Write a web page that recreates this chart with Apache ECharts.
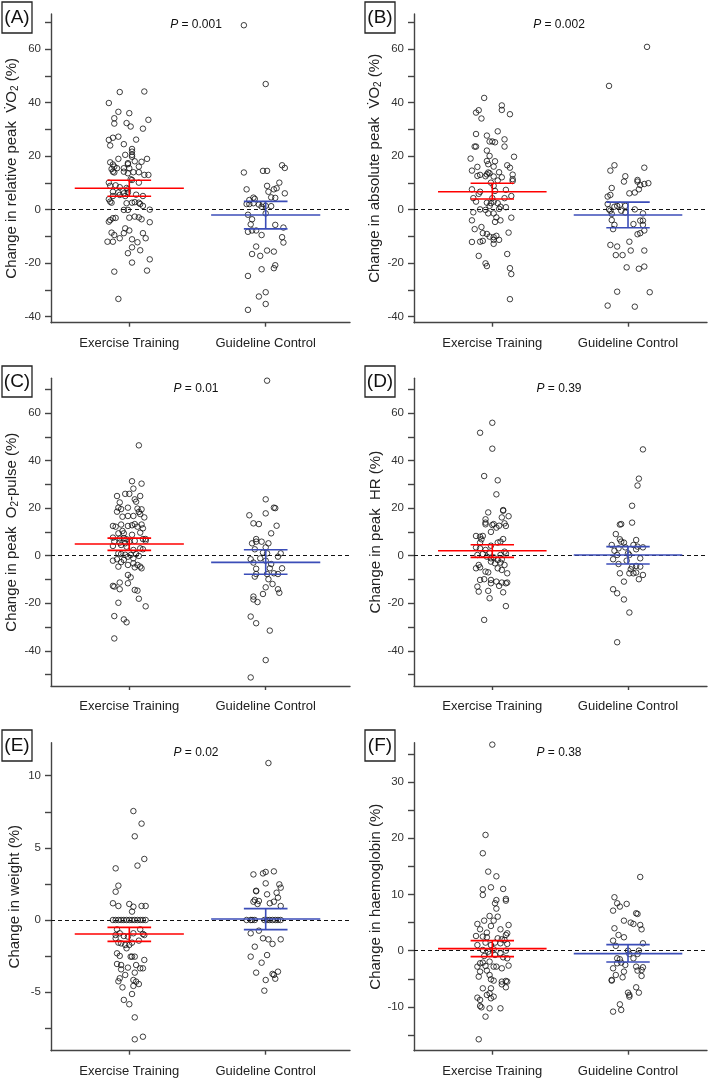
<!DOCTYPE html>
<html><head><meta charset="utf-8">
<script src="https://cdn.jsdelivr.net/npm/echarts@6/dist/echarts.min.js"></script>
<style>html,body{margin:0;padding:0;background:#fff}#c{width:709px;height:1080px}</style>
</head><body><div id="c"></div>
<script>
// ---------- data ----------
const groups = ['Exercise Training', 'Guideline Control'];
const panelLabels = ['(A)', '(B)', '(C)', '(D)', '(E)', '(F)'];
const pValues = ['0.001', '0.002', '0.01', '0.39', '0.02', '0.38'];
const yTitles = [
  'Change in relative peak  V\u0307O{s|2} (%)',
  'Change in absolute peak  V\u0307O{s|2} (%)',
  'Change in peak  O{s|2}-pulse (%)',
  'Change in peak  HR (%)',
  'Change in weight (%)',
  'Change in haemoglobin (%)'
];
const yTicksAB = [-40, -30, -20, -10, 0, 10, 20, 30, 40, 50, 60, 70];
const yLabelsAB = [-40, -20, 0, 20, 40, 60];
const yTicksCD = [-50, -40, -30, -20, -10, 0, 10, 20, 30, 40, 50, 60, 70];
const yLabelsCD = [-40, -20, 0, 20, 40, 60];
const yTicksE = [-7.5, -5, -2.5, 0, 2.5, 5, 7.5, 10];
const yLabelsE = [-5, 0, 5, 10];
const yTicksF = [-15, -10, -5, 0, 5, 10, 15, 20, 25, 30, 35];
const yLabelsF = [-10, 0, 10, 20, 30];

// points: [jitter, value]
const exA = [[-0.07,44.0],[0.11,44.2],[-0.15,39.9],[-0.08,36.6],[0.00,36.1],[-0.11,34.2],[-0.11,32.2],[-0.02,32.4],[0.01,31.1],[0.14,33.6],[0.10,30.3],[-0.08,27.3],[-0.12,26.9],[-0.15,26.1],[-0.14,24.0],[-0.04,24.5],[0.05,26.2],[0.02,22.7],[0.02,21.7],[0.02,20.5],[-0.03,20.5],[0.02,19.8],[-0.08,19.0],[0.13,19.0],[-0.14,17.7],[-0.12,16.9],[-0.11,16.1],[0.04,18.1],[0.09,17.9],[-0.01,17.4],[-0.01,17.0],[-0.13,15.2],[-0.09,15.5],[-0.04,15.5],[0.00,15.5],[0.07,16.1],[-0.12,14.2],[-0.11,13.9],[-0.04,14.2],[-0.01,13.6],[0.03,14.0],[0.07,14.0],[0.11,13.0],[0.14,13.0],[0.01,11.4],
[-0.15,10.1],[-0.14,8.9],[-0.10,9.1],[-0.07,8.4],[-0.02,8.1],[-0.01,7.6],[-0.12,6.7],[-0.08,6.4],[-0.04,6.1],[-0.01,6.4],[0.07,10.1],[0.02,11.1],[-0.07,5.5],[-0.03,5.1],[-0.12,5.1],[0.10,5.1],[0.05,5.6],[-0.15,3.9],[-0.14,3.0],[-0.13,2.6],[-0.02,2.4],[0.02,2.6],[0.04,2.8],[0.07,2.6],[0.08,2.1],[0.10,1.4],[-0.04,-0.1],[-0.01,-0.1],[0.15,0.0],[-0.14,-3.9],[-0.12,-3.2],[-0.10,-3.1],[-0.15,-4.5],[0.00,-3.0],[0.04,-2.6],[0.07,-2.9],[0.09,-3.6],[0.15,-4.7],[-0.03,-7.0],[0.00,-7.8],[-0.04,-8.8],[-0.13,-8.6],[-0.11,-9.5],[0.10,-8.8],[-0.12,-12.0],[-0.16,-12.0],[-0.07,-10.7],[0.02,-11.1],[0.12,-10.7],[0.06,-12.2],[0.02,-14.1],[0.08,-15.2],[-0.01,-16.3],[0.15,-18.6],[0.02,-19.8],[-0.11,-23.2],[0.13,-22.8],[-0.08,-33.4]];
const ctA = [[-0.16,69.0],[0.00,47.0],[-0.16,13.9],[-0.02,14.5],[0.01,14.5],[0.12,16.6],[0.14,15.6],[0.10,10.1],[0.01,8.9],[0.08,8.0],[0.06,7.6],[-0.14,7.6],[0.02,6.7],[0.14,6.1],[0.04,4.6],[0.07,4.4],[-0.09,4.5],[-0.08,4.0],[-0.12,3.6],[-0.14,2.1],[-0.12,2.1],[-0.09,2.4],[-0.05,1.9],[-0.02,2.1],[0.00,1.4],[0.04,1.3],[-0.03,1.1],[0.00,-1.4],[-0.13,-1.9],[-0.10,-3.6],[-0.11,-5.5],[-0.13,-8.3],[-0.10,-7.8],[-0.07,-7.8],[-0.03,-9.5],[0.07,-5.7],[0.13,-6.7],[0.12,-10.3],[0.13,-12.3],[-0.07,-13.8],[-0.10,-16.6],[-0.04,-17.3],[0.01,-15.3],[0.06,-15.7],[-0.13,-24.8],[-0.03,-22.3],[0.06,-21.9],[0.07,-20.8],[-0.05,-32.5],[0.00,-30.9],[0.00,-35.3],[-0.13,-37.5]];

const exB = [[-0.06,41.8],[0.07,39.0],[0.07,37.3],[-0.10,37.2],[-0.12,36.3],[0.13,35.7],[-0.08,34.1],[0.04,29.3],[-0.12,28.3],[-0.04,27.7],[0.09,26.3],[-0.02,25.5],[0.00,25.5],[0.02,25.2],[-0.13,23.6],[-0.12,23.6],[0.09,23.6],[-0.04,22.1],[-0.02,20.1],[-0.16,19.1],[0.16,19.8],[-0.04,18.2],[0.02,18.1],[-0.03,17.0],[0.11,16.6],[-0.11,16.0],[0.01,16.1],[0.13,15.7],[-0.15,14.6],[0.05,14.0],[-0.03,13.9],[-0.02,13.6],[-0.04,13.2],[-0.09,13.0],[-0.11,12.6],[-0.05,12.5],[0.15,13.1],[0.01,12.4],[0.07,12.1],[0.15,11.4],
[-0.01,10.1],[0.01,8.9],[0.04,10.9],[0.15,10.7],[-0.15,7.6],[-0.09,6.7],[-0.10,5.9],[0.02,7.0],[0.10,7.4],[-0.14,4.3],[-0.12,3.0],[0.00,4.3],[0.09,4.3],[0.14,5.1],[-0.04,2.6],[-0.01,2.4],[0.01,3.0],[0.04,2.4],[-0.02,1.4],[0.06,1.1],[0.10,0.9],[0.05,0.3],[-0.09,0.1],[-0.05,-0.1],[-0.03,-1.4],[-0.14,-1.0],[0.01,-1.4],[0.03,-2.9],[0.06,-4.0],[0.02,-4.6],[0.14,-3.0],[-0.15,-4.0],[-0.13,-7.3],[-0.08,-6.5],[-0.07,-8.8],[-0.04,-9.1],[-0.02,-10.1],[0.01,-10.3],[0.03,-9.8],[0.01,-11.3],[0.05,-11.3],[0.01,-12.8],[-0.09,-12.0],[-0.07,-11.7],[-0.15,-12.1],[0.12,-8.6],[-0.10,-17.3],[0.11,-16.6],[-0.05,-20.1],[-0.04,-21.1],[0.13,-21.9],[0.14,-24.1],[0.13,-33.5]];
const ctB = [[-0.14,46.3],[0.14,60.9],[-0.13,14.6],[-0.10,16.6],[0.12,15.7],[-0.02,12.5],[0.07,11.1],[-0.03,10.5],[0.07,10.5],[0.09,9.2],[0.12,9.6],[0.15,9.9],[-0.12,8.1],[0.08,7.6],[0.01,6.1],[0.05,6.4],[-0.13,5.5],[-0.15,4.9],[-0.15,2.1],[-0.10,1.1],[-0.08,1.4],[-0.06,1.8],[-0.02,1.4],[-0.14,0.1],[-0.13,-0.4],[-0.05,-0.4],[-0.02,-1.1],[0.05,0.1],[0.11,-1.4],[-0.12,-1.6],[-0.12,-3.9],[-0.10,-5.7],[-0.11,-7.3],[0.04,-5.4],[0.09,-4.1],[0.11,-4.1],[0.11,-5.7],[0.12,-7.8],[0.09,-8.8],[0.07,-9.2],[-0.13,-13.2],[-0.08,-13.8],[0.01,-12.0],[0.02,-15.3],[0.12,-15.3],[-0.09,-17.0],[-0.04,-17.0],[-0.01,-21.6],[0.08,-22.1],[0.12,-21.3],[-0.08,-30.7],[0.16,-30.9],[-0.15,-35.9],[0.05,-36.3]];

const exC = [[0.07,46.4],[0.02,31.3],[0.09,30.3],[0.03,28.2],[-0.09,25.1],[-0.03,26.0],[0.00,26.0],[0.08,25.1],[0.04,23.7],[0.05,22.7],[-0.07,22.4],[-0.01,20.2],[-0.08,20.2],[-0.06,19.6],[-0.09,18.5],[0.06,19.8],[0.09,19.5],[0.08,17.5],[-0.05,16.4],[-0.01,16.7],[0.03,16.7],[0.11,16.1],[0.07,18.4],[0.04,13.3],[0.06,12.2],[-0.12,12.5],[-0.10,12.2],[-0.06,13.1],[-0.01,12.5],[0.02,12.8],[0.09,13.1],[0.10,11.5],[-0.05,10.4],[-0.04,9.4],[0.02,8.8],[0.08,9.7],[-0.08,9.4],[-0.12,7.6],[-0.07,7.2],[-0.04,7.4],[-0.02,6.9],[0.10,7.0],[0.12,7.0],
[-0.11,5.9],[-0.07,5.5],[-0.03,5.2],[0.00,5.9],[0.04,6.2],[0.12,6.3],[-0.12,4.1],[-0.06,4.5],[-0.02,3.8],[0.08,3.1],[0.10,2.7],[0.03,2.4],[-0.08,1.0],[-0.06,0.7],[-0.03,0.4],[0.01,0.3],[0.05,0.7],[0.07,-0.1],[-0.01,-0.4],[-0.12,-2.1],[-0.09,-1.5],[-0.06,-2.7],[-0.04,-1.8],[0.03,-1.1],[0.03,-3.2],[0.06,-3.9],[0.08,-4.6],[0.09,-5.3],[0.04,-4.9],[-0.08,-4.6],[-0.01,-3.9],[-0.01,-8.1],[0.01,-9.1],[-0.07,-11.3],[-0.01,-11.6],[-0.12,-12.7],[-0.11,-13.0],[-0.07,-14.1],[0.04,-14.4],[0.06,-14.7],[0.07,-18.1],[-0.08,-19.8],[0.12,-21.3],[-0.11,-25.4],[-0.04,-26.8],[-0.02,-28.0],[-0.11,-34.8]];
const ctC = [[0.01,73.6],[0.00,23.7],[0.06,20.2],[0.07,20.0],[-0.12,17.0],[-0.09,13.6],[-0.05,13.3],[0.00,17.8],[0.08,12.6],[0.04,9.4],[-0.07,7.0],[-0.10,5.2],[-0.07,5.9],[-0.03,5.9],[0.02,5.2],[0.00,3.5],[-0.08,2.7],[-0.02,1.3],[0.01,1.0],[0.11,1.0],[0.09,-0.4],[-0.04,-1.1],[-0.11,-1.5],[-0.09,-2.9],[0.00,-2.1],[0.04,-3.5],[0.03,-5.3],[0.12,-5.3],[-0.07,-5.5],[-0.08,-8.8],[-0.07,-7.7],[0.01,-7.7],[0.06,-7.4],[0.09,-7.7],[0.02,-9.9],[0.05,-11.9],[0.00,-13.3],[0.09,-14.1],[0.10,-15.6],[-0.02,-16.1],[-0.09,-17.2],[-0.09,-18.4],[-0.06,-19.5],[-0.11,-25.6],[-0.07,-28.4],[0.03,-31.5],[0.00,-43.9],[-0.11,-51.2]];

const exD = [[0.00,55.9],[-0.09,51.7],[0.00,45.0],[-0.06,33.5],[0.04,31.7],[0.03,25.8],[-0.03,18.2],[0.08,19.2],[0.08,18.9],[0.12,16.6],[0.07,16.1],[-0.05,15.3],[-0.05,13.2],[-0.05,13.9],[0.01,13.3],[0.00,12.9],[0.05,12.6],[0.10,12.5],[0.03,11.8],[0.09,13.6],[-0.01,10.0],[-0.12,8.3],[-0.09,8.0],[-0.07,8.3],[0.08,7.0],[-0.08,6.9],
[-0.09,5.5],[0.06,5.9],[0.04,5.5],[-0.01,4.2],[-0.12,3.5],[-0.09,3.1],[-0.05,2.4],[-0.02,1.3],[0.09,1.7],[0.10,1.0],[0.06,0.3],[-0.11,0.3],[-0.07,0.7],[-0.04,-0.4],[-0.01,-1.1],[0.01,-0.7],[0.04,-1.8],[0.07,-1.5],[-0.01,-2.5],[0.02,-3.2],[0.06,-2.9],[-0.10,-3.9],[-0.09,-4.9],[-0.12,-5.3],[-0.05,-6.7],[-0.03,-7.0],[0.04,-5.3],[0.07,-6.0],[0.11,-7.4],[0.09,-3.9],[-0.09,-10.2],[-0.06,-9.9],[-0.01,-10.2],[-0.01,-11.6],[0.03,-10.9],[0.05,-12.7],[0.07,-11.3],[0.10,-11.6],[0.11,-11.3],[-0.11,-13.0],[-0.10,-15.1],[-0.03,-14.8],[0.08,-15.4],[-0.02,-17.9],[0.10,-21.2],[-0.06,-27.0]];
const ctD = [[0.11,44.7],[0.08,32.4],[0.07,29.5],[0.03,21.0],[0.03,13.9],[-0.06,13.1],[-0.05,13.3],[-0.09,9.1],[0.06,6.6],[-0.06,6.9],[-0.12,4.5],[-0.05,5.9],[-0.03,5.5],[-0.07,3.1],[-0.02,3.5],[0.04,4.5],[0.07,3.8],[0.11,3.5],[0.06,2.7],[-0.10,2.1],[-0.08,0.3],[0.00,1.0],[0.01,0.3],[-0.11,-1.5],[-0.07,-3.5],[-0.01,-2.1],[0.09,-1.1],[0.03,-4.6],[0.06,-4.3],[0.09,-4.6],[0.02,-5.7],[0.06,-7.1],[0.01,-7.4],[0.04,-7.4],[0.11,-8.1],[0.08,-9.9],[-0.06,-7.4],[-0.03,-10.9],[-0.11,-14.1],[-0.08,-15.8],[-0.03,-18.4],[0.01,-23.9],[-0.08,-36.4]];

const exE = [[0.03,7.55],[0.09,6.68],[0.04,5.80],[0.11,4.23],[0.06,3.77],[-0.10,3.58],[-0.08,2.38],[-0.10,1.96],[-0.12,1.16],[-0.08,0.97],[0.00,1.11],[0.03,0.92],[0.02,0.58],[0.09,0.97],[0.12,0.97],
[-0.12,0],[-0.10,0],[-0.08,0],[-0.06,0],[-0.04,0],[-0.02,0],[0.00,0],[0.02,0],[0.04,0],[0.06,0],[0.08,0],[0.10,0],[0.12,0],
[-0.09,-0.65],[-0.07,-0.92],[-0.10,-1.04],[-0.10,-1.27],[-0.04,-1.11],[-0.01,-1.15],[0.03,-0.92],[0.08,-0.65],[0.10,-0.97],[0.11,-1.04],[-0.08,-1.57],[-0.06,-1.62],[-0.03,-1.73],[-0.02,-1.96],[0.00,-1.73],[0.02,-1.57],[0.07,-1.43],[-0.09,-2.31],[-0.07,-2.49],[0.01,-2.54],[0.02,-2.54],[0.04,-2.54],[0.11,-2.77],[-0.09,-3.05],[-0.06,-3.12],[-0.06,-3.42],[-0.01,-3.30],[0.05,-3.12],[0.08,-3.35],[0.10,-3.35],[0.04,-3.65],[-0.03,-3.81],[-0.07,-4.04],[-0.08,-4.25],[0.03,-4.16],[0.05,-4.27],[0.07,-4.44],[0.03,-4.57],[-0.05,-4.67],[0.02,-5.13],[-0.04,-5.54],[0.00,-5.84],[0.04,-6.75],[0.10,-8.09],[0.04,-8.27]];
const ctE = [[0.02,10.88],[-0.09,3.16],[-0.02,3.23],[0.00,3.33],[0.06,3.37],[0.00,2.54],[-0.07,2.03],[-0.07,1.99],[0.10,2.47],[0.11,2.24],[0.01,1.78],[0.08,1.89],[0.09,1.55],[-0.08,1.39],[-0.09,1.27],[-0.06,1.11],[-0.05,1.32],[0.03,1.16],[0.06,1.27],[0.11,0.97],
[-0.14,0],[-0.11,0],[-0.10,0],[-0.08,0],[-0.01,0],[0.01,0],[0.03,0],[0.05,0],[0.07,0],[0.09,0],[0.11,0],
[-0.11,-0.92],[-0.05,-0.74],[-0.02,-1.27],[0.02,-1.34],[0.05,-1.66],[0.11,-1.34],[-0.08,-1.85],[-0.11,-2.54],[0.01,-2.43],[-0.03,-2.96],[-0.07,-3.65],[0.05,-3.74],[0.09,-3.58],[0.06,-3.81],[0.07,-4.07],[0.00,-4.16],[-0.01,-4.90]];

const exF = [[0.00,36.66],[-0.05,20.59],[-0.07,17.33],[-0.03,14.06],[0.03,13.23],[-0.07,10.92],[-0.01,11.27],[0.08,10.98],[-0.07,9.91],[0.10,9.2],[0.03,9.0],[0.02,8.43],[0.10,8.9],[0.03,7.48],[-0.02,6.17],[0.04,6.05],[-0.06,5.34],[0.01,5.34],[-0.11,4.75],[-0.01,4.39],[0.12,4.57],[-0.09,3.8],[-0.04,3.21],[0.06,3.8],[-0.12,2.61],[-0.07,2.5],[-0.04,2.38],[0.10,2.79],[0.11,3.09],[0.04,2.2],[0.07,2.02],[0.09,1.9],[-0.11,1.0],[-0.05,1.43],[-0.01,1.0],[0.02,1.43],[0.06,1.31],[0.11,1.19],[-0.07,0.12],[-0.03,-0.17],[0.01,0.24],[0.10,0.0],[-0.06,-0.95],[-0.02,-0.59],[0.02,-0.77],[0.08,-1.18],[0.11,-1.36],[0.06,-0.47],[-0.09,-2.25],[-0.07,-2.13],[-0.02,-1.95],[-0.11,-2.84],[-0.05,-2.72],[0.01,-2.84],[0.03,-2.84],[0.07,-3.14],[0.12,-2.66],[-0.09,-3.73],[-0.04,-3.55],[-0.02,-4.33],[-0.10,-4.62],[-0.01,-5.1],[0.01,-5.33],[0.07,-5.51],[0.10,-5.39],[0.11,-5.51],[0.07,-5.99],[0.10,-6.52],[-0.07,-6.7],[-0.01,-6.7],[-0.04,-7.88],[-0.02,-7.59],[0.01,-8.18],[-0.01,-8.48],[-0.11,-8.36],[-0.09,-8.77],[-0.09,-9.84],[-0.08,-10.08],[0.06,-10.26],[-0.02,-10.26],[-0.05,-11.74],[-0.10,-15.77]];
const ctF = [[0.09,13.11],[-0.10,9.5],[-0.08,8.43],[-0.06,7.84],[-0.01,8.31],[-0.11,7.12],[-0.03,5.34],[0.07,6.53],[0.06,6.65],[0.02,4.99],[0.04,4.75],[0.09,4.57],[0.10,3.8],[-0.10,3.98],[-0.07,2.79],[-0.03,2.38],[-0.11,1.78],[-0.09,0.85],[0.11,1.31],[0.00,0.0],[0.08,0.0],[0.01,-0.59],[0.07,-0.59],[0.04,-1.36],[-0.08,-1.36],[-0.06,-1.54],[-0.05,-2.13],[-0.02,-2.54],[-0.08,-2.25],[0.06,-2.84],[0.11,-2.96],[-0.11,-3.14],[0.10,-3.44],[-0.03,-3.73],[0.07,-3.55],[-0.09,-4.33],[-0.04,-4.74],[-0.12,-5.21],[0.10,-4.5],[-0.12,-5.33],[0.06,-6.52],[0.08,-7.47],[0.00,-7.47],[0.01,-8.18],[0.01,-7.88],[-0.06,-9.55],[-0.05,-10.55],[-0.11,-10.85]];

// [mean, lower CI, upper CI] for exercise, control
const statsA = [[8.0, 5.0, 11.0], [-2.0, -7.2, 3.1]];
const statsB = [[6.7, 4.0, 9.9], [-2.0, -6.8, 2.8]];
const statsC = [[4.9, 2.25, 7.4], [-2.8, -7.8, 2.5]];
const statsD = [[2.1, -0.7, 4.6], [0.3, -3.5, 3.8]];
const statsE = [[-0.97, -1.48, -0.51], [0.07, -0.67, 0.79]];
const statsF = [[0.36, -1.06, 1.78], [-0.53, -2.01, 1.07]];

// ---------- layout / style ----------
const FONT = 'Liberation Sans, Arial, Helvetica, sans-serif';
const AX = '#444';
const groupColors = ['#ff0000', '#3b4db8'];
const cols = [
  {left: 51, width: 299, xmin: 0.426, xmax: 2.618, labX: 2, pX: 196},
  {left: 414, width: 293, xmin: 0.423, xmax: 2.582, labX: 365, pX: 559}
];
const rows = [
  {top: 14, height: 308.7, labY: 2, pY: 25},
  {top: 378.3, height: 307.7, labY: 366, pY: 389},
  {top: 742.7, height: 308, labY: 730, pY: 753}
];
const panels = [
  {ex: exA, ct: ctA, st: statsA, yr: [-42.3, 73.2], ticks: yTicksAB, labels: yLabelsAB},
  {ex: exB, ct: ctB, st: statsB, yr: [-42.3, 73.2], ticks: yTicksAB, labels: yLabelsAB},
  {ex: exC, ct: ctC, st: statsC, yr: [-54.8, 74.6], ticks: yTicksCD, labels: yLabelsCD},
  {ex: exD, ct: ctD, st: statsD, yr: [-54.8, 74.6], ticks: yTicksCD, labels: yLabelsCD},
  {ex: exE, ct: ctE, st: statsE, yr: [-9.06, 12.29], ticks: yTicksE, labels: yLabelsE},
  {ex: exF, ct: ctF, st: statsF, yr: [-17.8, 37.0], ticks: yTicksF, labels: yLabelsF}
];

const grid = [], xAxis = [], yAxis = [], series = [], graphic = [];
panels.forEach((p, i) => {
  const c = cols[i % 2], r = rows[Math.floor(i / 2)];
  grid.push({left: c.left, top: r.top, width: c.width, height: r.height, containLabel: false, outerBoundsMode: 'none'});
  xAxis.push({
    type: 'value', gridIndex: i, min: c.xmin, max: c.xmax,
    splitLine: {show: false},
    axisLine: {show: true, onZero: false, lineStyle: {color: AX, width: 1.4}},
    axisTick: {show: true, customValues: [1, 2], length: 4, lineStyle: {color: AX, width: 1.4}},
    axisLabel: {customValues: [1, 2], formatter: v => groups[Math.round(v) - 1], fontSize: 13, color: '#222', fontFamily: FONT, margin: 14}
  });
  yAxis.push({
    type: 'value', gridIndex: i, min: p.yr[0], max: p.yr[1],
    splitLine: {show: false},
    axisLine: {show: true, onZero: false, lineStyle: {color: AX, width: 1.4}},
    axisTick: {show: true, customValues: p.ticks, length: 6, lineStyle: {color: AX, width: 1.4}},
    axisLabel: {customValues: p.labels, formatter: v => String(v), fontSize: 11.5, color: '#333', fontFamily: FONT, margin: 10},
    name: yTitles[i], nameLocation: 'middle', nameGap: 29,
    nameTextStyle: {fontSize: 15, color: '#222', fontFamily: FONT,
      rich: {s: {fontSize: 10, color: '#222', fontFamily: FONT, padding: [7, 0, 0, 0]}}}
  });
  [p.ex, p.ct].forEach((pts, g) => {
    series.push({
      type: 'scatter', xAxisIndex: i, yAxisIndex: i, z: 3,
      symbol: 'circle', symbolSize: 5.5,
      itemStyle: {color: 'rgba(0,0,0,0)', borderColor: '#111', borderWidth: 1},
      data: pts.map(d => [g + 1 + d[0], d[1]]),
      silent: true,
      markLine: g === 0 ? {
        silent: true, symbol: ['none', 'none'], label: {show: false},
        lineStyle: {color: '#111', type: [4, 3], width: 1.2},
        data: [{yAxis: 0}]
      } : undefined
    });
  });
  series.push({
    type: 'custom', xAxisIndex: i, yAxisIndex: i, z: 5, silent: true,
    data: p.st.map((s, g) => [g + 1, s[0], s[1], s[2]]),
    renderItem: (params, api) => {
      const x = api.value(0), m = api.value(1), lo = api.value(2), hi = api.value(3);
      const col = groupColors[params.dataIndex];
      const seg = (a, b) => {
        const p1 = api.coord(a), p2 = api.coord(b);
        return {type: 'line', shape: {x1: p1[0], y1: p1[1], x2: p2[0], y2: p2[1]},
          style: {stroke: col, lineWidth: 1.6}};
      };
      return {type: 'group', children: [
        seg([x - 0.4, m], [x + 0.4, m]),
        seg([x - 0.16, lo], [x + 0.16, lo]),
        seg([x - 0.16, hi], [x + 0.16, hi]),
        seg([x, lo], [x, hi])
      ]};
    }
  });
  graphic.push({type: 'rect', shape: {x: c.labX, y: r.labY, width: 30, height: 31},
    style: {fill: 'none', stroke: '#222', lineWidth: 1.3}});
  graphic.push({type: 'text', x: c.labX + 15, y: r.labY + 16,
    style: {text: panelLabels[i], fontSize: 19, fontFamily: FONT, fill: '#111',
      align: 'center', verticalAlign: 'middle', textAlign: 'center', textVerticalAlign: 'middle'}});
  graphic.push({type: 'text', x: c.pX, y: r.pY,
    style: {text: '{i|P} = ' + pValues[i], fontSize: 12, fontFamily: FONT, fill: '#111',
      align: 'center', verticalAlign: 'middle', textAlign: 'center', textVerticalAlign: 'middle',
      rich: {i: {fontStyle: 'italic', fontSize: 12, fontFamily: FONT, fill: '#111', color: '#111'}}}});
});

const chart = echarts.init(document.getElementById('c'), null, {renderer: 'canvas'});
chart.setOption({
  animation: false,
  backgroundColor: '#fff',
  grid, xAxis, yAxis, series, graphic
});
</script>
</body></html>
